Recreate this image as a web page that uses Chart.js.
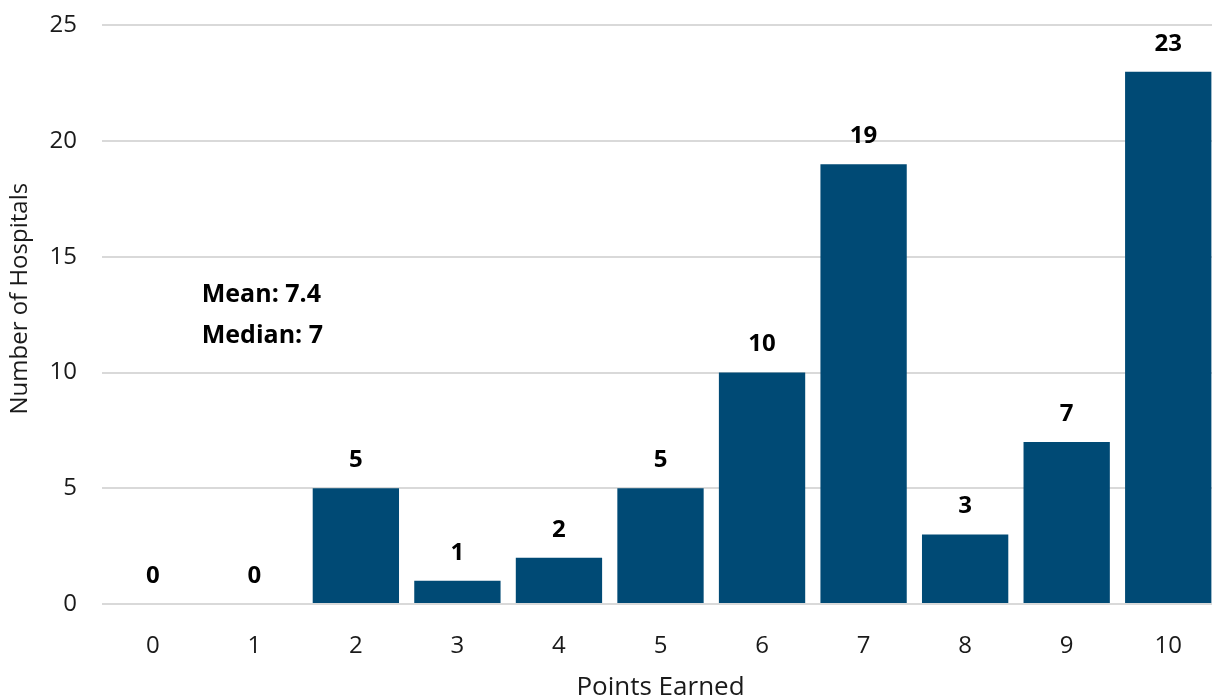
<!DOCTYPE html>
<html>
<head>
<meta charset="utf-8">
<script src="https://cdn.jsdelivr.net/npm/chart.js@4"></script>
<style>
  html, body { margin: 0; padding: 0; background: #fff; overflow: hidden; }
  #wrap { position: absolute; left: 0; top: -14px; width: 1219px; height: 712px; }
</style>
</head>
<body>
<div id="wrap"><canvas id="chart"></canvas></div>
<script>
// Distribution of points earned
const points = ['0', '1', '2', '3', '4', '5', '6', '7', '8', '9', '10'];
const hospitals = [0, 0, 5, 1, 2, 5, 10, 19, 3, 7, 23];
const yTicks = [0, 5, 10, 15, 20, 25];
const summary = ['Mean: 7.4', 'Median: 7'];
const yTitle = 'Number of Hospitals';

const FONT = '"Open Sans", "Noto Sans", sans-serif';
const TEXT = '#1a1a1a';

// value labels above each bar, mean/median note, y-axis title
const labelsPlugin = {
  id: 'labels',
  afterDatasetsDraw(chart) {
    const ctx = chart.ctx;
    const meta = chart.getDatasetMeta(0);
    const x = chart.scales.x;
    const y = chart.scales.y;
    ctx.save();
    ctx.fillStyle = '#000';
    ctx.font = 'bold 24px ' + FONT;
    ctx.textAlign = 'center';
    ctx.textBaseline = 'bottom';
    meta.data.forEach((bar, i) => {
      ctx.fillText(String(hospitals[i]), bar.x, bar.y - 16);
    });

    ctx.font = 'bold 25px ' + FONT;
    ctx.textAlign = 'left';
    ctx.textBaseline = 'middle';
    const left = x.getPixelForValue(0) + 49;
    ctx.fillText(summary[0], left, y.getPixelForValue(13.36));
    ctx.fillText(summary[1], left, y.getPixelForValue(11.6));

    // axis title sits a little above the plot's centre
    ctx.fillStyle = TEXT;
    ctx.font = '24px ' + FONT;
    ctx.textAlign = 'center';
    ctx.translate(20, (y.top + y.bottom) / 2 - 16);
    ctx.rotate(-Math.PI / 2);
    ctx.fillText(yTitle, 0, 0);
    ctx.restore();
  }
};

new Chart(document.getElementById('chart'), {
  type: 'bar',
  data: {
    labels: points,
    datasets: [{
      data: hospitals,
      backgroundColor: '#004a75',
      categoryPercentage: 1,
      barPercentage: 0.85
    }]
  },
  options: {
    responsive: true,
    maintainAspectRatio: false,
    animation: false,
    layout: { padding: { top: 8, right: 0, left: 0, bottom: -5 } },
    plugins: { legend: { display: false }, tooltip: { enabled: false } },
    scales: {
      x: {
        grid: { display: false },
        border: { display: false },
        ticks: { color: TEXT, font: { family: FONT, size: 24 }, padding: 20 },
        title: { display: true, text: 'Points Earned', color: TEXT, font: { family: FONT, size: 26 }, padding: { top: 4, bottom: 0 } },
        afterFit(scale) { scale.height = 99; }
      },
      y: {
        min: 0, max: 25,
        afterBuildTicks(scale) { scale.ticks = yTicks.map(v => ({ value: v })); },
        grid: { color: '#d9d9d9', lineWidth: 2, drawTicks: false },
        border: { display: false },
        ticks: { color: TEXT, font: { family: FONT, size: 24 }, padding: 25 },
        afterFit(scale) { scale.width = 102; }
      }
    }
  },
  plugins: [labelsPlugin]
});
</script>
</body>
</html>
